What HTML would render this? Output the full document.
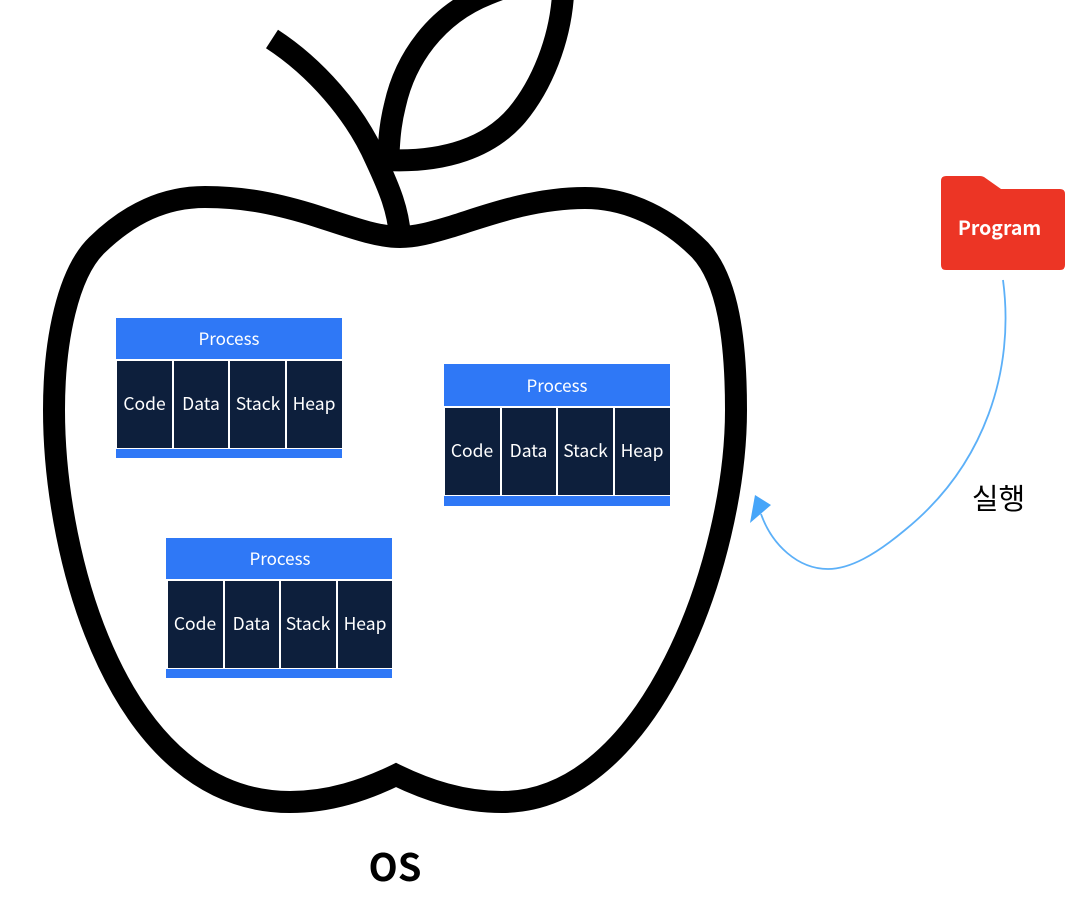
<!DOCTYPE html>
<html><head><meta charset="utf-8"><style>
html,body{margin:0;padding:0;background:#fff}
body{width:1086px;height:922px;overflow:hidden}
svg{display:block}
text{font-family:"Noto Sans CJK KR","Liberation Sans",sans-serif}
</style></head><body>
<svg width="1086" height="922" viewBox="0 0 1086 922" xmlns="http://www.w3.org/2000/svg">
<rect width="1086" height="922" fill="#fff"/>
<g fill="none" stroke="#000" stroke-width="22">
<path stroke-linejoin="miter" d="M400 237 C375 237 345 225 310 214 C270 202 240 197 205 197 C165 197 130 213 97 245 C68 273 54 340 54 410 C54 560 120 802 290 802 C330 802 365 790 396 775 C427 790 462 802 502 802 C650 802 736 560 736 410 C736 340 728 280 700 250 C670 220 630 198 585 198 C530 198 480 218 450 227 C430 233 415 237 400 237 Z"/>
<path d="M272 39 C315 67 355 112 376 160 C390 190 398 210 400 236"/>
<path d="M388 165 C389 140 390 125 395 105 C405 60 435 15 488 -6 C510 -15 540 -24 570 -28"/>
<path d="M385 160 C445 163 490 147 517 115 C542 85 560 40 563 -5"/>
</g>

<g font-size="17.500" text-anchor="middle" fill="#fff">
<rect x="116" y="318" width="226" height="41" fill="#2f78f6"/>
<text x="229" y="345" font-size="17">Process</text>
<rect x="117" y="361" width="55" height="87" fill="#0d1f3c"/>
<rect x="174" y="361" width="54" height="87" fill="#0d1f3c"/>
<rect x="230" y="361" width="55" height="87" fill="#0d1f3c"/>
<rect x="287" y="361" width="55" height="87" fill="#0d1f3c"/>
<text x="144.500" y="410">Code</text>
<text x="201" y="410">Data</text>
<text x="258" y="410">Stack</text>
<text x="314" y="410">Heap</text>
<rect x="116" y="449" width="226" height="9" fill="#2f78f6"/>
</g>

<g font-size="17.500" text-anchor="middle" fill="#fff">
<rect x="444" y="364" width="226" height="42" fill="#2f78f6"/>
<text x="557" y="392" font-size="17">Process</text>
<rect x="445" y="408" width="55" height="87" fill="#0d1f3c"/>
<rect x="502" y="408" width="54" height="87" fill="#0d1f3c"/>
<rect x="558" y="408" width="55" height="87" fill="#0d1f3c"/>
<rect x="615" y="408" width="55" height="87" fill="#0d1f3c"/>
<text x="472" y="457">Code</text>
<text x="528.500" y="457">Data</text>
<text x="585.500" y="457">Stack</text>
<text x="642" y="457">Heap</text>
<rect x="444" y="496" width="226" height="10" fill="#2f78f6"/>
</g>

<g font-size="17.500" text-anchor="middle" fill="#fff">
<rect x="166" y="538" width="226" height="41" fill="#2f78f6"/>
<text x="280" y="565" font-size="17">Process</text>
<rect x="168" y="581" width="55" height="87" fill="#0d1f3c"/>
<rect x="225" y="581" width="54" height="87" fill="#0d1f3c"/>
<rect x="281" y="581" width="55" height="87" fill="#0d1f3c"/>
<rect x="338" y="581" width="54" height="87" fill="#0d1f3c"/>
<text x="195" y="630">Code</text>
<text x="251.500" y="630">Data</text>
<text x="308" y="630">Stack</text>
<text x="365" y="630">Heap</text>
<rect x="166" y="669" width="226" height="9" fill="#2f78f6"/>
</g>

<path d="M946 176 H980 Q982 176 984 177 L1001 189 H1060 Q1065 189 1065 194 V265 Q1065 270 1060 270 H946 Q941 270 941 265 V181 Q941 176 946 176 Z" fill="#ec3525"/>
<text x="999.500" y="235" font-size="19.500" font-weight="700" text-anchor="middle" fill="#fff">Program</text>

<path d="M1003 280 C1015 370 985 465 905 530 C875 555 850 569 828 569 C798 569 772 545 761 514" fill="none" stroke="#5cb0f8" stroke-width="1.800"/>
<polygon points="755,495 771,505 750,523" fill="#46a5f9"/>

<text x="998.500" y="509" font-size="29" text-anchor="middle" fill="#000">실행</text>
<text x="395" y="881" font-size="38" font-weight="700" text-anchor="middle" fill="#000">OS</text>
</svg>
</body></html>
